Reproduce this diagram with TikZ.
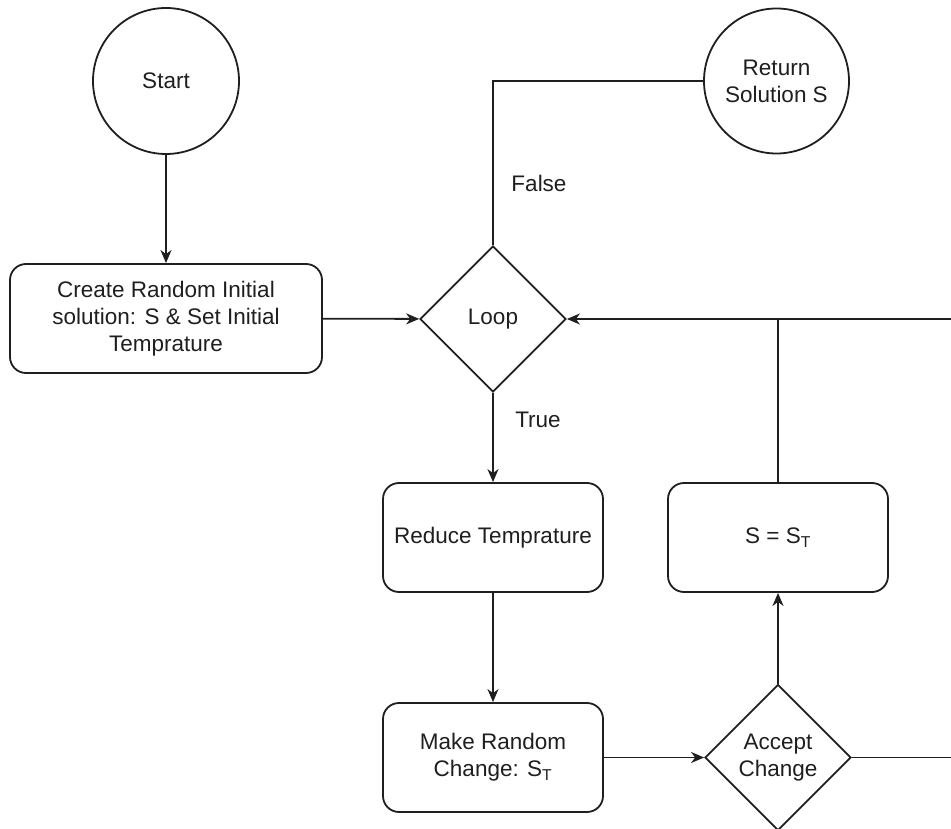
\documentclass[tikz,border=0pt]{standalone}
\usepackage{fontspec}
\setmainfont{Liberation Sans}
\usetikzlibrary{shapes.geometric,arrows.meta}
\begin{document}
\begin{tikzpicture}[x=1pt,y=-1pt,
  every node/.style={font=\fontsize{22.5}{27}\selectfont, align=center, inner sep=0pt, text=black!88},
  shapebase/.style={draw=black!88, line width=1.8pt, fill=white},
  terminal/.style={shapebase, circle, minimum size=146pt},
  process/.style={shapebase, rectangle, rounded corners=16pt},
  decision/.style={shapebase, diamond, aspect=1, minimum size=146pt},
  link/.style={draw=black!88, line width=1.8pt},
  flow/.style={link, -{Stealth[length=13pt, width=11pt, inset=4pt]}}
]
\clip (0,0) rectangle (951,829);
\fill[white] (0,0) rectangle (951,829);

% nodes
\node[terminal] (start) at (166,81) {Start};
\node[process, minimum width=312pt, minimum height=109pt] (init) at (166,318.5)
  {Create Random Initial\\solution: S \& Set Initial\\Temprature};
\node[decision] (loop) at (493,319) {Loop};
\node[terminal, minimum size=145pt] (ret) at (776.5,81) {Return\\Solution S};
\node[process, minimum width=220pt, minimum height=109pt] (reduce) at (493,537.5) {Reduce Temprature};
\node[process, minimum width=220pt, minimum height=109pt] (change) at (493,757.5) {Make Random\\Change: S\textsubscript{T}};
\node[process, minimum width=220pt, minimum height=109pt] (assign) at (778,537.5) {S = S\textsubscript{T}};
\node[decision] (accept) at (778,757.5) {Accept\\Change};

% branch labels
\node (lblfalse) at (539,183) {False};
\node (lbltrue) at (538,420) {True};

% connectors
\coordinate (rightrail) at (962,757.5);
\draw[flow] (start) -- (init);
\draw[flow] (init) -- (loop);
\draw[link] (loop.north) |- (ret.west);
\draw[flow] (loop) -- (reduce);
\draw[flow] (reduce) -- (change);
\draw[flow] (change) -- (accept);
\draw[flow] (accept) -- (assign);
\draw[flow] (accept.east) -- (rightrail) |- (loop.east);
\draw[link] (assign.north) -- (assign.north |- loop.east);
\end{tikzpicture}
\end{document}
